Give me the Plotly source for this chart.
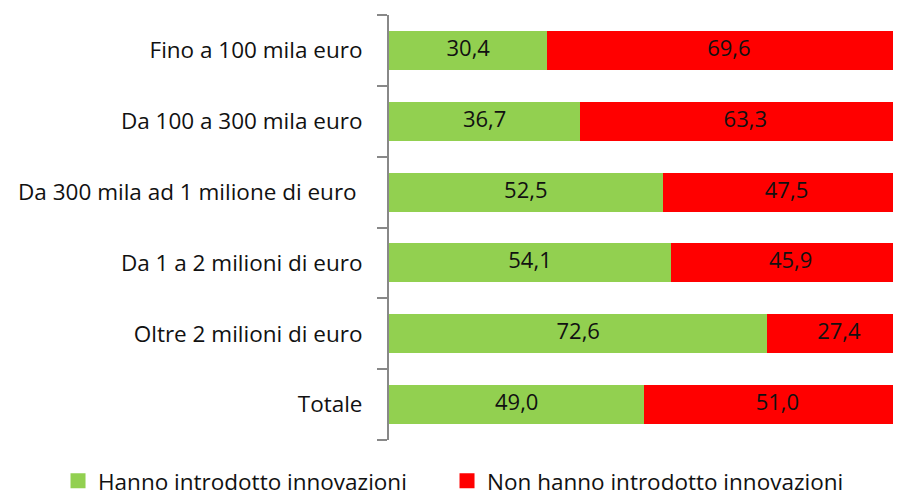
import plotly.graph_objects as go

categories = ["Fino a 100 mila euro", "Da 100 a 300 mila euro", "Da 300 mila ad 1 milione di euro ",
              "Da 1 a 2 milioni di euro", "Oltre 2 milioni di euro", "Totale"]
innov = [30.4, 36.7, 52.5, 54.1, 72.6, 49.0]
non_innov = [69.6, 63.3, 47.5, 45.9, 27.4, 51.0]
series_names = ["Hanno introdotto innovazioni", "Non hanno introdotto innovazioni"]
colors = ["#92D050", "#FF0000"]

def fmt(v):
    return f"{v:.1f}".replace(".", ",")

FONT = "Open Sans"
TXT = "#111111"
fig = go.Figure()
fig.add_trace(go.Bar(y=categories, x=innov, orientation="h", marker_color=colors[0],
                     marker_line_width=0, showlegend=False, hoverinfo="skip"))
fig.add_trace(go.Bar(y=categories, x=non_innov, orientation="h", marker_color=colors[1],
                     marker_line_width=0, showlegend=False, hoverinfo="skip"))
# labels centered in segments
fig.add_trace(go.Scatter(y=categories, x=[g / 2 for g in innov], mode="text",
                         text=[fmt(v) for v in innov], textposition="middle center",
                         textfont=dict(size=22, color=TXT, family=FONT),
                         showlegend=False, hoverinfo="skip", cliponaxis=False))
fig.add_trace(go.Scatter(y=categories, x=[g + r / 2 for g, r in zip(innov, non_innov)], mode="text",
                         text=[fmt(v) for v in non_innov], textposition="middle center",
                         textfont=dict(size=22, color=TXT, family=FONT),
                         showlegend=False, hoverinfo="skip", cliponaxis=False))
for name, c, lw in zip(series_names, colors, [344, 380]):
    fig.add_trace(go.Scatter(x=[None], y=[None], mode="markers", name=name, legendwidth=lw,
                             marker=dict(symbol="square", size=15, color=c)))

fig.update_layout(
    width=885, height=488,
    margin=dict(l=381, r=0, t=7, b=56, autoexpand=False),
    barmode="stack", bargap=0.45,
    plot_bgcolor="white", paper_bgcolor="white",
    font=dict(family=FONT, size=22.5, color=TXT),
    xaxis=dict(range=[0, 96.68], visible=False, fixedrange=True),
    yaxis=dict(categoryorder="array", categoryarray=categories[::-1], autorange=False,
               range=[-0.5, 5.5], automargin=False,
               showline=True, linecolor="#888888", linewidth=2,
               ticks="outside", tickson="boundaries", ticklen=10, tickcolor="#888888", tickwidth=2,
               ticklabelstandoff=20, showgrid=False, zeroline=False,
               tickfont=dict(size=22.5, family=FONT, color=TXT)),
    legend=dict(orientation="h", x=-0.6567, xanchor="left", y=-0.097, yanchor="middle",
                font=dict(size=22.5, family=FONT, color=TXT),
                traceorder="normal", itemsizing="trace"),
)
fig.write_html("out.html")
